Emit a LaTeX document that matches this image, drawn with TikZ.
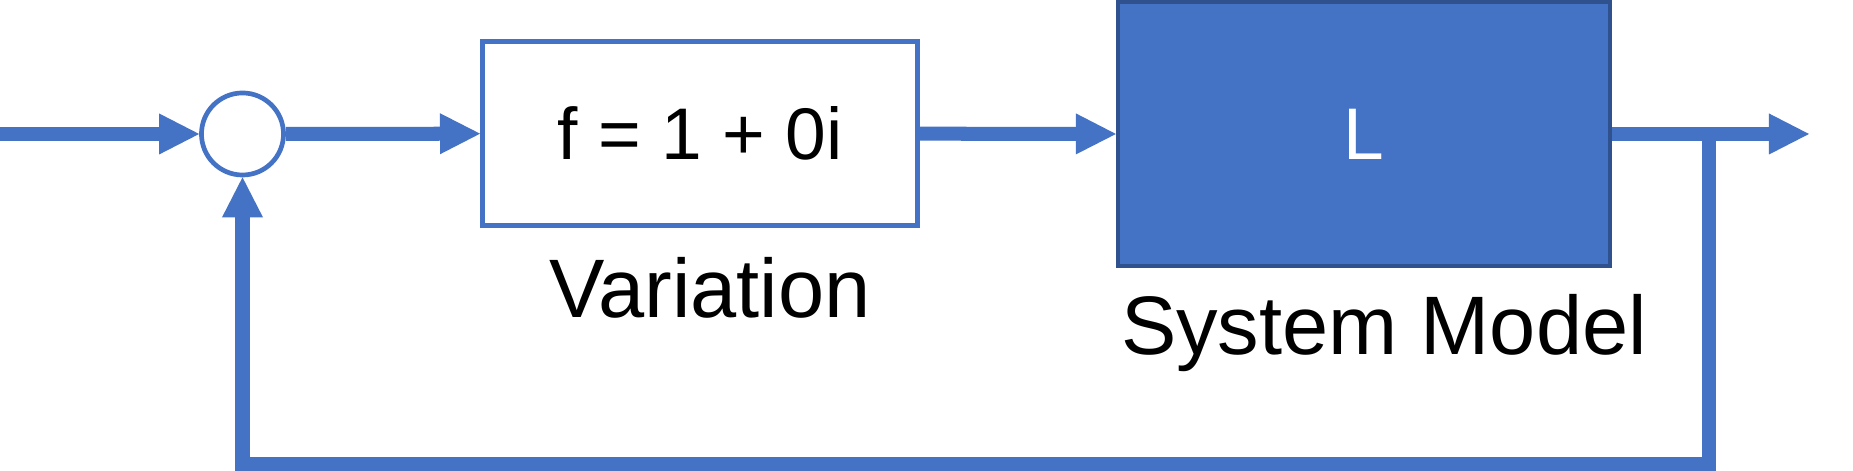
\documentclass[tikz,border=0pt]{standalone}
\usepackage{fontspec}
\setmainfont{Liberation Sans}
\usetikzlibrary{arrows.meta}
\definecolor{ppblue}{HTML}{4472C4}
\definecolor{ppdark}{HTML}{2F528F}
\begin{document}
\begin{tikzpicture}[x=0.01cm,y=-0.01cm,
  conn/.style={draw=ppblue,line width=0.14cm},
  arrowend/.style={-{Triangle[length=0.40cm,width=0.41cm,line width=0pt]}},
  sumnode/.style={circle,draw=ppblue,fill=white,line width=0.047cm,minimum size=0.82cm,inner sep=0pt},
  varbox/.style={rectangle,draw=ppblue,fill=white,line width=0.047cm,minimum width=4.35cm,minimum height=1.84cm,inner sep=0pt,font=\fontsize{20.8pt}{25pt}\selectfont},
  sysbox/.style={rectangle,draw=ppdark,fill=ppblue,line width=0.045cm,minimum width=4.914cm,minimum height=2.634cm,inner sep=0pt,text=white,font=\fontsize{20.8pt}{25pt}\selectfont},
  lbl/.style={inner sep=0pt,anchor=base,font=\fontsize{23.6pt}{28pt}\selectfont}
]
\useasboundingbox (0,0) rectangle (1853,471);
\fill[white] (0,0) rectangle (1853,471);

\node[sumnode] (sum) at (242.5,134) {};
\node[varbox] (var) at (700,133.7) {f = 1 + 0i};
\node[sysbox] (sys) at (1364,134) {L};
\node[lbl] (varlbl) at (710,318) {Variation};
\node[lbl] (syslbl) at (1384,355) {System Model};

\coordinate (in) at (0,134);
\coordinate (out) at (1809,134);
\coordinate (tap) at (1709,134);
\coordinate (fb) at (1709,464);

\draw[conn,arrowend] (in) -- (sum.west);
\draw[conn,arrowend] (sum.east) -- (var.west);
\draw[conn,arrowend] (var.east) -- (sys.west);
\draw[conn,arrowend] (sys.east) -- (out);
\draw[conn,arrowend] (tap) -- (fb) -| (sum.south);
\end{tikzpicture}
\end{document}
